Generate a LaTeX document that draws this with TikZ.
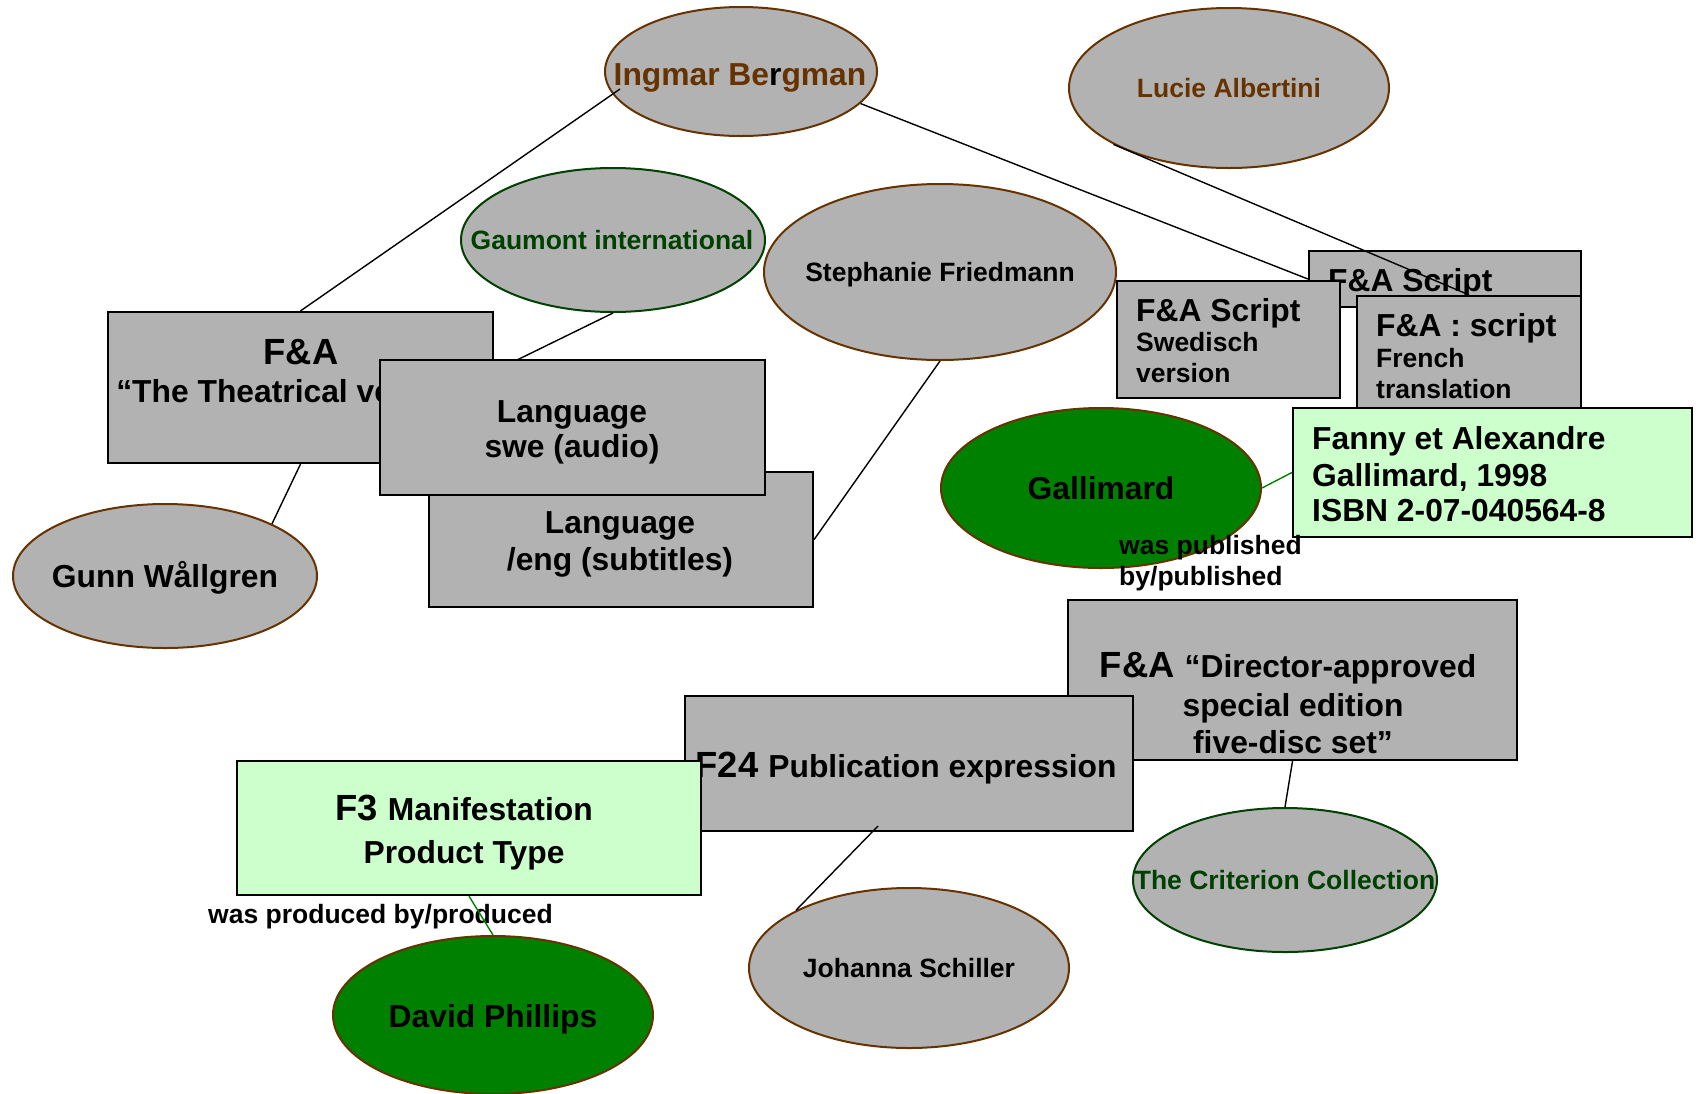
\documentclass[tikz,border=0pt]{standalone}
\usepackage{fontspec}
\setmainfont{Liberation Sans}
\usetikzlibrary{shapes.geometric,calc}
\definecolor{brn}{RGB}{102,51,0}
\definecolor{dgrn}{RGB}{0,64,0}
\definecolor{grn}{RGB}{0,128,0}
\definecolor{lgrn}{RGB}{204,255,204}
\definecolor{gry}{RGB}{178,178,178}
\newcommand\szL{\fontsize{31.8pt}{36pt}\selectfont}
\newcommand\szM{\fontsize{26.5pt}{30pt}\selectfont}
\newcommand\szB{\fontsize{36.4pt}{40pt}\selectfont}
\begin{document}
\begin{tikzpicture}[x=1pt,y=-1pt,
  ell/.style={ellipse, draw=brn, fill=gry, line width=2pt, inner sep=0pt},
  gell/.style={ell, draw=dgrn},
  fell/.style={ell, fill=grn},
  box/.style={rectangle, draw=black, fill=gry, line width=2.2pt, inner sep=0pt},
  lbox/.style={box, fill=lgrn},
  txt/.style={inner sep=0pt, font=\bfseries, anchor=base},
  ltxt/.style={txt, anchor=base west},
  conn/.style={line width=1.4pt, draw=black},
  gconn/.style={conn, draw=grn}]
\useasboundingbox (0,0) rectangle (1699,1093);

% top ellipses
\node[ell, minimum width=272pt, minimum height=129pt] (ingmar) at (741,71.5) {};
\node[txt, text=brn] (ingmarT) at (740,85) {\szL Ingmar Be\textcolor{black}{r}gman};
\node[ell, minimum width=320pt, minimum height=160pt] (lucie) at (1229,88) {};
\node[txt, text=brn] (lucieT) at (1229,97.5) {\szM Lucie Albertini};
\node[gell, minimum width=304pt, minimum height=144pt] (gaumont) at (613,240) {};
\node[txt, text=dgrn] (gaumontT) at (612,249.5) {\szM Gaumont international};
\node[ell, minimum width=352pt, minimum height=176pt] (stephanie) at (940,272) {};
\node[txt] (stephanieT) at (940,281.5) {\szM Stephanie Friedmann};

% F&A theatrical
\node[box, minimum width=385pt, minimum height=151pt] (fatheat) at (300.5,387.5) {};
\node[txt] (fatheatA) at (301,364) {\szB F\&A};
\node[txt] (fatheatB) at (301,402.5) {\szL “The Theatrical version”};
\node[ell, minimum width=304pt, minimum height=144pt] (gunn) at (165,576) {};
\node[txt] (gunnT) at (165,587.5) {\szL Gunn Wållgren};

% languages
\node[box, minimum width=384pt, minimum height=135pt] (langeng) at (621,539.5) {};
\node[txt] (langengA) at (620,533.5) {\szL Language};
\node[txt] (langengB) at (620,570.5) {\szL /eng (subtitles)};
\node[box, minimum width=385pt, minimum height=135pt] (langswe) at (572.5,427.5) {};
\node[txt] (langsweA) at (572,422.5) {\szL Language};
\node[txt] (langsweB) at (572,457.5) {\szL swe (audio)};

% scripts
\node[box, minimum width=272pt, minimum height=56pt] (scriptback) at (1445,279) {};
\node[ltxt] (scriptbackT) at (1328,291.5) {\szL F\&A Script};
\node[box, minimum width=223pt, minimum height=117pt] (swedish) at (1228.5,339.5) {};
\node[ltxt] (swedishA) at (1136,321.5) {\szL F\&A Script};
\node[ltxt] (swedishB) at (1136,351.5) {\szM Swedisch};
\node[ltxt] (swedishC) at (1136,382.5) {\szM version};
\node[box, minimum width=224pt, minimum height=124pt] (french) at (1469,358) {};
\node[ltxt] (frenchA) at (1376,336.5) {\szL F\&A : script};
\node[ltxt] (frenchB) at (1376,367.5) {\szM French};
\node[ltxt] (frenchC) at (1376,398.5) {\szM translation};
\node[lbox, minimum width=399pt, minimum height=129pt] (fanny) at (1492.5,472.5) {};
\node[ltxt] (fannyA) at (1312,449.5) {\szL Fanny et Alexandre};
\node[ltxt] (fannyB) at (1312,486.5) {\szL Gallimard, 1998};
\node[ltxt] (fannyC) at (1312,521.5) {\szL ISBN 2-07-040564-8};

% Gallimard
\node[fell, minimum width=320pt, minimum height=160pt] (gallimard) at (1101,488) {};
\node[txt] (gallimardT) at (1101,499.5) {\szL Gallimard};
\node[ltxt] (pubA) at (1119,554.5) {\szM was published};
\node[ltxt] (pubB) at (1119,585.5) {\szM by/published};

% publication boxes
\node[box, minimum width=449pt, minimum height=160pt] (director) at (1292.5,680) {};
\node[txt] (directorA) at (1288,677.5) {\szB F\&A \szL “Director-approved};
\node[txt] (directorB) at (1293,716.5) {\szL special edition};
\node[txt] (directorC) at (1293,753.5) {\szL five-disc set”};
\node[box, minimum width=448pt, minimum height=135pt] (f24) at (909,763.5) {};
\node[txt] (f24T) at (906,777.5) {\szB F24 \szL Publication expression};
\node[lbox, minimum width=464pt, minimum height=134pt] (f3) at (469,828) {};
\node[txt] (f3A) at (464,820) {\szB F3 \szL Manifestation};
\node[txt] (f3B) at (464,863.5) {\szL Product Type};

% bottom ellipses
\node[gell, minimum width=304pt, minimum height=144pt] (criterion) at (1285,880) {};
\node[txt, text=dgrn] (criterionT) at (1285,889.5) {\szM The Criterion Collection};
\node[ell, minimum width=320pt, minimum height=160pt] (johanna) at (909,968) {};
\node[txt] (johannaT) at (909,977.5) {\szM Johanna Schiller};
\node[fell, minimum width=320pt, minimum height=158pt] (david) at (493,1015) {};
\node[txt] (davidT) at (493,1027.5) {\szL David Phillips};
\node[ltxt] (prodT) at (208,923.5) {\szM was produced by/produced};

% connector ends
\coordinate (ingmarL) at (620,89);
\coordinate (langsweTop) at (517,360);
\coordinate (f24B) at (878,826);

% connectors
\draw[conn] (ingmarL) -- (fatheat.north);
\draw[conn] (ingmar.-15.6) -- (scriptback.west);
\draw[conn] (lucie.206) -- (french.north);
\draw[conn] (gaumont.south) -- (langsweTop);
\draw[conn] (stephanie.south) -- (langeng.east);
\draw[conn] (fatheat.south) -- (gunn.26);
\draw[gconn] (gallimard.east) -- (fanny.west);
\draw[conn] (f24B) -- (johanna.153);
\draw[conn] (director.south) -- (criterion.north);
\draw[gconn] (f3.south) -- (david.north);
\end{tikzpicture}
\end{document}
